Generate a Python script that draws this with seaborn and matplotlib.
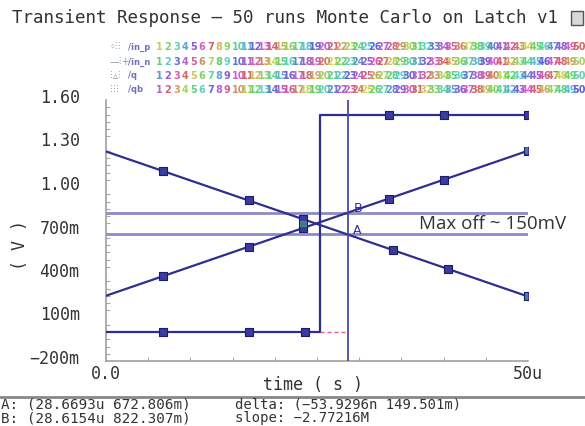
import matplotlib
matplotlib.use("Agg")
import matplotlib.pyplot as plt
import matplotlib.transforms as mtransforms
from matplotlib.patches import Rectangle
import numpy as np
import pandas as pd
import seaborn as sns

# ---- waveform data (time in us, voltage in V) ----
ramp_t = [0.0, 50.0]
falling_v = [1.245, 0.245]
rising_v = [0.25, 1.25]

out_t = [0.0, 25.4, 25.4, 50.0]
out_v = [0.0, 0.0, 1.5, 1.5]

late_run_t = [25.4, 28.6693]
late_run_v = [0.0, 0.0]

# marker positions along each trace
falling_mk_t = [6.8, 16.9, 23.4, 34.0, 40.5, 50.0]
falling_mk_v = [1.109, 0.907, 0.777, 0.565, 0.435, 0.245]
rising_mk_t = [6.8, 16.9, 23.4, 33.5, 40.0, 50.0]
rising_mk_v = [0.386, 0.588, 0.718, 0.920, 1.050, 1.250]
out_low_mk_t = [6.8, 16.9, 23.6]
out_low_mk_v = [0.0, 0.0, 0.0]
out_high_mk_t = [33.5, 40.0, 50.0]
out_high_mk_v = [1.5, 1.5, 1.5]

# cursors
cursor_x = 28.6693
cursor_a = 0.672806
cursor_b = 0.822307

y_ticks = [1.6, 1.3, 1.0, 0.7, 0.4, 0.1, -0.2]
y_tick_labels = ["1.60", "1.30", "1.00", "700m", "400m", "100m", "\u2212200m"]
x_ticks = [0.0, 50.0]
x_tick_labels = ["0.0", "50u"]

title = "Transient Response \u2014 50 runs Monte Carlo on Latch v1"
note = "Max off ~ 150mV"
readout_1 = "A: (28.6693u 672.806m)"
readout_2 = "B: (28.6154u 822.307m)"
delta_1 = "delta: (\u221253.9296n 149.501m)"
delta_2 = "slope: \u22122.77216M"

# legend: one row per plotted signal, one entry per Monte Carlo run
legend_signals = ["/in_p", "/in_n", "/q", "/qb"]
legend_runs = list(range(1, 51))
legend_marks = ["\u25e6\u205d\u205d", "\u2014\u205d+", "\u205d\u25b5\u205d", "\u205d\u205d\u205d"]

sns.set_theme(style="white")
plt.rcParams["font.family"] = ["DejaVu Sans Mono", "DejaVu Sans"]

W, H = 585, 426
fig = plt.figure(figsize=(W / 100, H / 100), dpi=100)
fig.patch.set_facecolor("white")


def fx(px):
    return px / W


def fy(py):
    return 1 - py / H


ax = fig.add_axes([fx(106), fy(361), fx(528) - fx(106), fy(100) - fy(361)])
ax.set_facecolor("white")

trace = "#2e2e8c"
cursor_line = "#8b8bc9"

# horizontal cursors A and B
ax.axhline(cursor_b, color=cursor_line, lw=2.0, zorder=1)
ax.axhline(cursor_a, color=cursor_line, lw=2.0, zorder=1)

# ramps and output
ramps = pd.DataFrame({"t": ramp_t * 2, "v": falling_v + rising_v,
                      "sig": ["fall"] * 2 + ["rise"] * 2})
sns.lineplot(data=ramps, x="t", y="v", units="sig", estimator=None,
             color=trace, lw=1.6, ax=ax, zorder=3)
out_df = pd.DataFrame({"t": out_t, "v": out_v})
sns.lineplot(data=out_df, x="t", y="v", sort=False, estimator=None,
             color=trace, lw=1.6, ax=ax, zorder=3)
late_df = pd.DataFrame({"t": late_run_t, "v": late_run_v})
sns.lineplot(data=late_df, x="t", y="v", sort=False, estimator=None,
             color="#e0609a", lw=1.0, ax=ax, zorder=2, linestyle=(0, (3, 2)))

# vertical cursor
ax.axvline(cursor_x, color="#4a4aa8", lw=1.3, zorder=4)

# run markers
mk = pd.DataFrame({
    "t": falling_mk_t + rising_mk_t + out_low_mk_t + out_high_mk_t,
    "v": falling_mk_v + rising_mk_v + out_low_mk_v + out_high_mk_v,
})
sns.scatterplot(data=mk, x="t", y="v", marker="s", s=40, color="#3a3aa0",
                edgecolor="#1c1c6a", linewidth=0.8, ax=ax, zorder=5)
sns.scatterplot(x=[23.4, 50.0, 50.0], y=[0.745, 1.25, 0.245], marker="s", s=22,
                color="#4aa080", edgecolor="none", alpha=0.7, ax=ax, zorder=6)

ax.text(29.3, cursor_b + 0.03, "B", color="#30309a", fontsize=9,
        family="DejaVu Sans", va="center", ha="left", zorder=7)
ax.text(29.3, cursor_a + 0.03, "A", color="#30309a", fontsize=9,
        family="DejaVu Sans", va="center", ha="left", zorder=7)
ax.text(37.1, (cursor_a + cursor_b) / 2, note, color="#333333", fontsize=13.5,
        family="Open Sans", va="center", ha="left", zorder=7)

# axes styling
ax.set_xlim(0, 50)
ax.set_ylim(-0.2, 1.6)
ax.set_xticks(x_ticks, x_tick_labels)
ax.set_yticks(y_ticks, y_tick_labels)
ax.set_xticks(np.arange(5, 50, 5), minor=True)
ax.set_yticks(np.arange(-0.2, 1.6001, 0.05), minor=True)
ax.tick_params(axis="y", which="major", direction="in", length=6, width=1,
               color="#999999", pad=19, labelsize=12, labelcolor="#333333")
ax.tick_params(axis="y", which="minor", direction="in", length=3, width=0.8,
               color="#aaaaaa", left=True)
ax.tick_params(axis="x", which="major", direction="in", length=6, width=1,
               color="#999999", pad=3, labelsize=12, labelcolor="#333333")
ax.tick_params(axis="x", which="minor", direction="in", length=3, width=0.8,
               color="#aaaaaa", bottom=True)
shift = mtransforms.ScaledTranslation(0, 4 / 100, fig.dpi_scale_trans)
for lbl in ax.get_yticklabels():
    lbl.set_transform(lbl.get_transform() + shift)
ax.set_xlabel("")
ax.set_ylabel("")
for side in ("top", "right"):
    ax.spines[side].set_visible(False)
for side in ("left", "bottom"):
    ax.spines[side].set_color("#a0a0a0")
    ax.spines[side].set_linewidth(1.2)

# titles and axis names
fig.text(fx(12), fy(18), title, fontsize=12.6, color="#333333",
         ha="left", va="center")
fig.patches.append(Rectangle((fx(571), fy(25)), fx(12), fy(11) - fy(25),
                             transform=fig.transFigure, facecolor="#d8d8d8",
                             edgecolor="#555555", lw=1))
fig.text(fx(313), fy(385), "time ( s )", fontsize=12, color="#333333",
         ha="center", va="center")
fig.text(fx(20), fy(245), "( V )", fontsize=12, color="#333333",
         ha="center", va="center", rotation=90)

# legend strip: the 50 run entries of each signal packed on one row
run_colors = sns.color_palette("hls", 50, desat=0.85)
row_y = [47, 62, 76, 90]
for i, (sig, yy, rm) in enumerate(zip(legend_signals, row_y, legend_marks)):
    fig.text(fx(110), fy(yy), rm, fontsize=7, color="#8899aa",
             ha="left", va="center", family="DejaVu Sans")
    fig.text(fx(128), fy(yy), sig, fontsize=6, color="#7070b8",
             ha="left", va="center", family="DejaVu Sans", weight="bold")
    step = (572 - 156) / (len(legend_runs) - 1)
    for j, r in enumerate(legend_runs):
        fig.text(fx(156 + j * step), fy(yy), f"{r}", fontsize=7,
                 color=run_colors[(r * 7 + i * 11) % 50],
                 ha="left", va="center", family="DejaVu Sans", weight="bold")

# cursor readout bar
fig.add_artist(plt.Line2D([0, 1], [fy(397), fy(397)], transform=fig.transFigure,
                          color="#888888", lw=2))
fig.text(fx(1), fy(411.5), readout_1 + "\n" + readout_2, fontsize=10.3,
         color="#333333", ha="left", va="center", linespacing=0.95)
fig.text(fx(235), fy(411.5), delta_1 + "\n" + delta_2, fontsize=10,
         color="#333333", ha="left", va="center", linespacing=0.95)

fig.savefig("out.png", dpi=100, facecolor="white")
